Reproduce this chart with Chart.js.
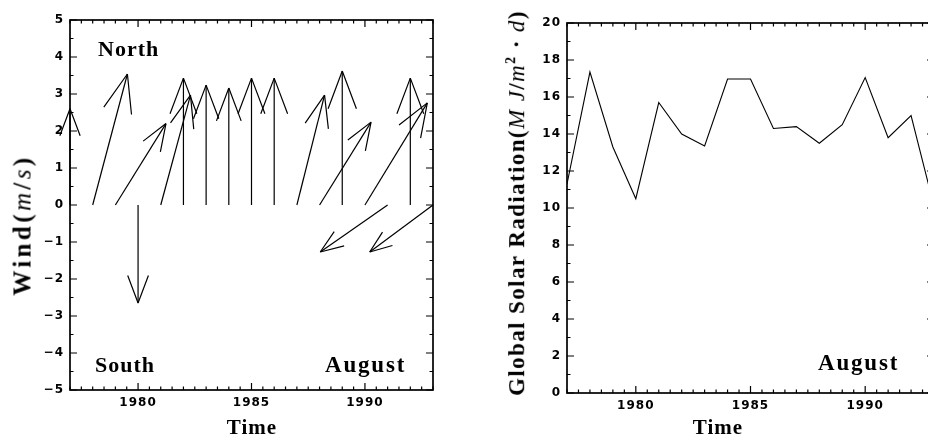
<!DOCTYPE html>
<html>
<head>
<meta charset="utf-8">
<script src="https://cdn.jsdelivr.net/npm/chart.js@4"></script>
<style>
  html, body { margin: 0; padding: 0; background: #fff; }
  #wrap { position: relative; width: 928px; height: 444px; overflow: hidden; }
  #windChart { position: absolute; left: 0; top: 0; }
  #solarChart { position: absolute; left: 460px; top: 0; }
  .lab { position: absolute; font-family: "Liberation Serif", serif; font-weight: bold;
         font-size: 22px; line-height: 1; color: #000; white-space: nowrap; letter-spacing: 1px; }
  .lab i { font-weight: normal; }
  .rot { transform: translate(-50%, -50%) rotate(-90deg); }
  .mid { transform: translate(-50%, -50%); }
</style>
</head>
<body>
<div id="wrap">
  <canvas id="windChart" width="460" height="444"></canvas>
  <canvas id="solarChart" width="480" height="444"></canvas>

  <div class="lab" style="left:98px;top:38px">North</div>
  <div class="lab" style="left:95px;top:354px">South</div>
  <div class="lab" style="left:325px;top:353px;font-size:23px;letter-spacing:1.8px">August</div>
  <div class="lab" style="left:818px;top:351px;font-size:23px;letter-spacing:1.8px">August</div>
  <div class="lab mid" style="left:252px;top:427px;font-size:21px">Time</div>
  <div class="lab mid" style="left:718px;top:427px;font-size:21px">Time</div>
  <div class="lab rot" style="left:22px;top:225px;font-size:25px;letter-spacing:3.4px">Wind(<i>m</i>/<i>s</i>)</div>
  <div class="lab rot" style="left:516px;top:203px;font-size:23px;letter-spacing:1.4px">Global Solar Radiation(<i>M J</i>/<i>m</i><sup style="font-size:14px">2</sup> · <i>d</i>)</div>
</div>

<script>
  // years of the August records
  const years = [1977, 1978, 1979, 1980, 1981, 1982, 1983, 1984, 1985,
                 1986, 1987, 1988, 1989, 1990, 1991, 1992, 1993];

  // wind vectors: horizontal part in time-axis units, vertical part in m/s
  const windDx = [0, 1.53, 2.23, 0, 1.31, 0, 0, 0, 0,
                  0, 1.22, 2.27, 0, 2.75, -2.97, 0, -2.79];
  const windV  = [2.6, 3.54, 2.2, -2.65, 2.97, 3.43, 3.24, 3.16, 3.43,
                  3.43, 2.97, 2.24, 3.62, 2.76, -1.27, 3.43, -1.27];

  // global solar radiation, MJ/m2.d
  const solar = [11.3, 17.35, 13.3, 10.5, 15.7, 14.0, 13.35, 16.97, 16.97,
                 14.3, 14.4, 13.5, 14.5, 17.05, 13.8, 15.0, 10.1];

  const timeTicks  = [1980, 1985, 1990];
  const windTicks  = [-5, -4, -3, -2, -1, 0, 1, 2, 3, 4, 5];
  const solarTicks = [0, 2, 4, 6, 8, 10, 12, 14, 16, 18, 20];

  const tickFont = { family: 'DejaVu Sans', weight: 'bold', size: 12 };
  const fmt = v => (v < 0 ? '\u2212' + Math.abs(v) : String(v));

  const near = (v, arr) => arr.some(a => Math.abs(a - v) < 1e-6);

  // box and inward tick marks on all four sides
  const frameTicks = {
    id: 'frameTicks',
    beforeDraw(chart) { chart.ctx.letterSpacing = '1px'; },
    afterDraw(chart, args, opts) {
      const { ctx, chartArea: a, scales: { x, y } } = chart;
      ctx.save();
      ctx.letterSpacing = '0px';
      ctx.strokeStyle = '#000';
      ctx.lineWidth = 1.7;
      ctx.strokeRect(a.left, a.top, a.right - a.left, a.bottom - a.top);
      ctx.lineWidth = 1.2;
      ctx.beginPath();
      const nx = Math.round((x.max - x.min) / opts.xMinor);
      for (let k = 0; k <= nx; k++) {
        const v = x.min + k * opts.xMinor;
        const px = x.getPixelForValue(v);
        const len = near(v, opts.xMajor) ? 7 : 3.5;
        ctx.moveTo(px, a.bottom); ctx.lineTo(px, a.bottom - len);
        ctx.moveTo(px, a.top); ctx.lineTo(px, a.top + len);
      }
      const ny = Math.round((y.max - y.min) / opts.yMinor);
      for (let k = 0; k <= ny; k++) {
        const v = y.min + k * opts.yMinor;
        const py = y.getPixelForValue(v);
        const len = near(v, opts.yMajor) ? 7 : 3.5;
        ctx.moveTo(a.left, py); ctx.lineTo(a.left + len, py);
        ctx.moveTo(a.right, py); ctx.lineTo(a.right - len, py);
      }
      ctx.stroke();
      ctx.restore();
    }
  };

  // arrow heads at the tip of every wind vector
  const arrowHeads = {
    id: 'arrowHeads',
    afterDatasetsDraw(chart) {
      const { ctx, scales: { x, y } } = chart;
      ctx.save();
      ctx.strokeStyle = '#000';
      ctx.lineWidth = 1.2;
      chart.data.datasets.forEach(ds => {
        const [b, t] = ds.data;
        const bx = x.getPixelForValue(b.x), by = y.getPixelForValue(b.y);
        const tx = x.getPixelForValue(t.x), ty = y.getPixelForValue(t.y);
        const ang = Math.atan2(by - ty, bx - tx);
        const len = Math.hypot(bx - tx, by - ty) * 0.3;
        ctx.beginPath();
        [-1, 1].forEach(s => {
          ctx.moveTo(tx, ty);
          ctx.lineTo(tx + len * Math.cos(ang + s * 0.36), ty + len * Math.sin(ang + s * 0.36));
        });
        ctx.stroke();
      });
      ctx.restore();
    }
  };

  const axisX = (h) => ({
    type: 'linear', min: 1977, max: 1993,
    grid: { display: false, drawTicks: false }, border: { display: false },
    afterBuildTicks: s => { s.ticks = timeTicks.map(v => ({ value: v })); },
    afterFit: s => { s.height = h; },
    ticks: { font: tickFont, color: '#000', padding: 6, maxRotation: 0, callback: v => String(v) }
  });

  const axisY = (min, max, list, w) => ({
    type: 'linear', min: min, max: max,
    grid: { display: false, drawTicks: false }, border: { display: false },
    afterBuildTicks: s => { s.ticks = list.map(v => ({ value: v })); },
    afterFit: s => { s.width = w; },
    ticks: { font: tickFont, color: '#000', padding: 6, callback: v => fmt(v) }
  });

  const baseOpts = {
    responsive: false, animation: false, devicePixelRatio: 1,
    plugins: { legend: { display: false }, tooltip: { enabled: false } }
  };

  new Chart(document.getElementById('windChart'), {
    type: 'scatter',
    data: {
      datasets: years.map((yr, i) => ({
        data: [{ x: yr, y: 0 }, { x: yr + windDx[i], y: windV[i] }],
        showLine: true, borderColor: '#000', borderWidth: 1.2,
        pointRadius: 0, clip: false
      }))
    },
    options: {
      ...baseOpts,
      layout: { padding: { top: 20, right: 27, left: 0, bottom: 0 } },
      scales: { x: axisX(54), y: axisY(-5, 5, windTicks, 70) },
      plugins: { ...baseOpts.plugins,
        frameTicks: { xMinor: 0.5, xMajor: timeTicks, yMinor: 0.5, yMajor: windTicks } }
    },
    plugins: [arrowHeads, frameTicks]
  });

  new Chart(document.getElementById('solarChart'), {
    type: 'scatter',
    data: {
      datasets: [{
        data: years.map((yr, i) => ({ x: yr, y: solar[i] })),
        showLine: true, borderColor: '#000', borderWidth: 1.1, pointRadius: 0
      }]
    },
    options: {
      ...baseOpts,
      layout: { padding: { top: 23, right: 6, left: 0, bottom: 0 } },
      scales: { x: axisX(51), y: axisY(0, 20, solarTicks, 107) },
      plugins: { ...baseOpts.plugins,
        frameTicks: { xMinor: 0.5, xMajor: timeTicks, yMinor: 1, yMajor: solarTicks } }
    },
    plugins: [frameTicks]
  });
</script>
</body>
</html>
